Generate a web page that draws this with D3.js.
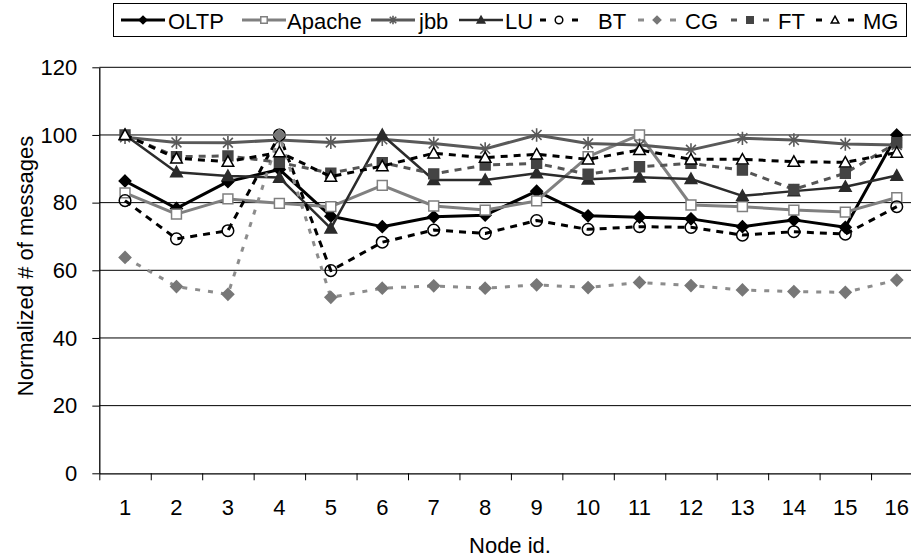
<!DOCTYPE html>
<html>
<head>
<meta charset="utf-8">
<script src="https://cdn.jsdelivr.net/npm/d3@7/dist/d3.min.js"></script>
<style>
  body { margin: 0; background: #fff; }
  svg { display: block; font-family: "Liberation Sans", Arial, sans-serif; }
</style>
</head>
<body>
<div id="chart"></div>
<script>
// node ids along the x axis
const nodes = [1, 2, 3, 4, 5, 6, 7, 8, 9, 10, 11, 12, 13, 14, 15, 16];

// normalized # of messages, one array per workload
const oltp   = [86.4, 78.3, 86.2, 89.8, 76.0, 72.9, 75.8, 76.3, 83.4, 76.1, 75.7, 75.2, 72.9, 74.9, 72.7, 100];
const apache = [82.9, 76.6, 81.1, 79.8, 78.8, 85.1, 79.0, 77.8, 80.5, 93.6, 100, 79.3, 78.8, 77.8, 77.2, 81.5];
const jbb    = [99.3, 97.8, 97.7, 98.5, 97.8, 98.7, 97.5, 95.9, 100, 97.5, 97.0, 95.6, 99.0, 98.5, 97.3, 97.0];
const lu     = [100, 89.0, 87.9, 87.4, 72.4, 100, 86.7, 86.7, 88.7, 86.9, 87.5, 87.0, 82.0, 83.4, 84.7, 88.0];
const bt     = [80.6, 69.3, 71.7, 100, 59.9, 68.3, 71.9, 70.9, 74.7, 72.1, 72.9, 72.7, 70.4, 71.4, 70.7, 78.8];
const cg     = [63.8, 55.2, 52.9, 100, 52.0, 54.7, 55.4, 54.7, 55.7, 54.9, 56.4, 55.5, 54.2, 53.7, 53.5, 57.1];
const ft     = [100, 93.6, 93.8, 91.9, 88.7, 91.8, 88.5, 91.1, 91.6, 88.4, 90.6, 91.6, 89.6, 83.9, 88.7, 97.7];
const mg     = [100, 93.1, 92.1, 94.9, 87.7, 90.8, 94.6, 93.3, 94.3, 92.8, 95.6, 92.8, 92.8, 92.1, 91.9, 94.8];

const seriesNames = ["OLTP", "Apache", "jbb", "LU", "BT", "CG", "FT", "MG"];
const yTicks = [0, 20, 40, 60, 80, 100, 120];

// look of each series (drawn in this order)
const styles = [
  { values: oltp,   color: "#000",    width: 3,   dash: null,  marker: "diamond",  mFill: "#000",    mStroke: "#000" },
  { values: apache, color: "#808080", width: 3,   dash: null,  marker: "square",   mFill: "#fff",    mStroke: "#808080" },
  { values: jbb,    color: "#595959", width: 3,   dash: null,  marker: "star",     mFill: "none",    mStroke: "#595959" },
  { values: lu,     color: "#2b2b2b", width: 2.5, dash: null,  marker: "triangle", mFill: "#2b2b2b", mStroke: "#2b2b2b" },
  { values: bt,     color: "#000",    width: 3,   dash: "7,6", marker: "circle",   mFill: "none",    mStroke: "#000" },
  { values: cg,     color: "#8c8c8c", width: 3,   dash: "5,8", marker: "diamond",  mFill: "#777",    mStroke: "#777" },
  { values: ft,     color: "#555",    width: 3,   dash: "7,6", marker: "square",   mFill: "#444",    mStroke: "#444" },
  { values: mg,     color: "#000",    width: 3,   dash: "7,6", marker: "triangle", mFill: "#fff",    mStroke: "#000" }
];

// legend layout: sample centre and text start
const legendMarkX = [143, 264, 393, 481, 559, 657, 750, 835];
const legendTextX = [168, 287, 419, 505, 598, 685, 778, 863];

const width = 911, height = 558;
const plot = { left: 99.3, right: 922.5, top: 67.3, bottom: 473.3 };

const svg = d3.select("#chart").append("svg")
  .attr("width", width)
  .attr("height", height);

const x = d3.scaleBand()
  .domain(nodes)
  .range([plot.left, plot.right])
  .padding(0);

const xEdge = d3.scaleLinear()
  .domain([0, nodes.length])
  .range([plot.left, plot.right]);

const y = d3.scaleLinear()
  .domain([0, 120])
  .range([plot.bottom, plot.top]);

// gridlines
svg.append("g")
  .selectAll("line")
  .data(yTicks.filter(d => d > 0))
  .enter()
  .append("line")
  .attr("x1", plot.left)
  .attr("x2", plot.right)
  .attr("y1", d => y(d))
  .attr("y2", d => y(d))
  .attr("stroke", "#000")
  .attr("stroke-width", 1);

// y axis
const yAxis = svg.append("g")
  .attr("transform", `translate(${plot.left},0)`)
  .call(d3.axisLeft(y).tickValues(yTicks).tickSize(7).tickPadding(15).tickSizeOuter(0));
yAxis.select(".domain").attr("stroke", "#000").attr("stroke-width", 1.3);
yAxis.selectAll(".tick line").attr("stroke", "#000");
yAxis.selectAll("text")
  .attr("font-size", 22)
  .attr("font-family", "Liberation Sans, Arial, sans-serif")
  .attr("fill", "#000");

// x axis tick marks at the category edges
const xTicks = svg.append("g")
  .attr("transform", `translate(0,${plot.bottom})`)
  .call(d3.axisBottom(xEdge).tickValues(d3.range(0, nodes.length + 1)).tickSize(7).tickFormat("").tickSizeOuter(0));
xTicks.select(".domain").attr("stroke", "#000").attr("stroke-width", 1.3);
xTicks.selectAll(".tick line").attr("stroke", "#000");

// x labels at category centres
const xLabels = svg.append("g")
  .attr("transform", `translate(0,${plot.bottom})`)
  .call(d3.axisBottom(x).tickSize(0).tickPadding(26));
xLabels.select(".domain").remove();
xLabels.selectAll("text")
  .attr("font-size", 22)
  .attr("font-family", "Liberation Sans, Arial, sans-serif")
  .attr("fill", "#000");

// axis titles
svg.append("text")
  .attr("x", 510)
  .attr("y", 553)
  .attr("text-anchor", "middle")
  .attr("font-size", 22)
  .text("Node id.");

svg.append("text")
  .attr("transform", "translate(33,266) rotate(-90)")
  .attr("text-anchor", "middle")
  .attr("font-size", 22)
  .text("Normalized # of messages");

// marker shapes
function markerPath(kind, s) {
  if (kind === "diamond") return `M0,${-s}L${s},0L0,${s}L${-s},0Z`;
  if (kind === "square") return `M${-s * 0.85},${-s * 0.85}h${s * 1.7}v${s * 1.7}h${-s * 1.7}Z`;
  if (kind === "triangle") return `M0,${-s}L${s},${s * 0.8}L${-s},${s * 0.8}Z`;
  if (kind === "circle") return d3.symbol(d3.symbolCircle, Math.PI * s * s)();
  if (kind === "star") {
    const a = s * 0.85;
    return `M${-a},${-a}L${a},${a}M${-a},${a}L${a},${-a}M0,${-s * 1.15}L0,${s * 1.15}`;
  }
}

function drawMarker(g, st, s) {
  g.append("path")
    .attr("d", markerPath(st.marker, s))
    .attr("fill", st.mFill)
    .attr("stroke", st.mStroke)
    .attr("stroke-width", st.marker === "star" ? 1.6 : 1.5);
}

const line = d3.line()
  .x((d, i) => x(nodes[i]) + x.bandwidth() / 2)
  .y(d => y(d));

styles.forEach(st => {
  svg.append("path")
    .datum(st.values)
    .attr("fill", "none")
    .attr("stroke", st.color)
    .attr("stroke-width", st.width)
    .attr("stroke-dasharray", st.dash)
    .attr("stroke-linejoin", "round")
    .attr("d", line);

  st.values.forEach((v, i) => {
    const g = svg.append("g")
      .attr("transform", `translate(${x(nodes[i]) + x.bandwidth() / 2},${y(v)})`);
    drawMarker(g, st, 5.8);
  });
});

// legend
const legend = svg.append("g");
legend.append("rect")
  .attr("x", 113.5)
  .attr("y", 3.5)
  .attr("width", 793)
  .attr("height", 33)
  .attr("fill", "#fff")
  .attr("stroke", "#000")
  .attr("stroke-width", 1);

seriesNames.forEach((name, i) => {
  const st = styles[i];
  const cx = legendMarkX[i];
  if (st.dash) {
    // dashed sample: one short dash on each side of the marker
    [-1, 1].forEach(side => {
      legend.append("line")
        .attr("x1", cx + side * 13)
        .attr("x2", cx + side * 19)
        .attr("y1", 20)
        .attr("y2", 20)
        .attr("stroke", st.color)
        .attr("stroke-width", st.width);
    });
  } else {
    legend.append("line")
      .attr("x1", cx - 22)
      .attr("x2", cx + 22)
      .attr("y1", 20)
      .attr("y2", 20)
      .attr("stroke", st.color)
      .attr("stroke-width", st.width);
  }
  const g = legend.append("g").attr("transform", `translate(${cx},20)`);
  drawMarker(g, st, 3.8);
  legend.append("text")
    .attr("x", legendTextX[i])
    .attr("y", 28.5)
    .attr("font-size", 22)
    .attr("fill", "#000")
    .text(name);
});
</script>
</body>
</html>
